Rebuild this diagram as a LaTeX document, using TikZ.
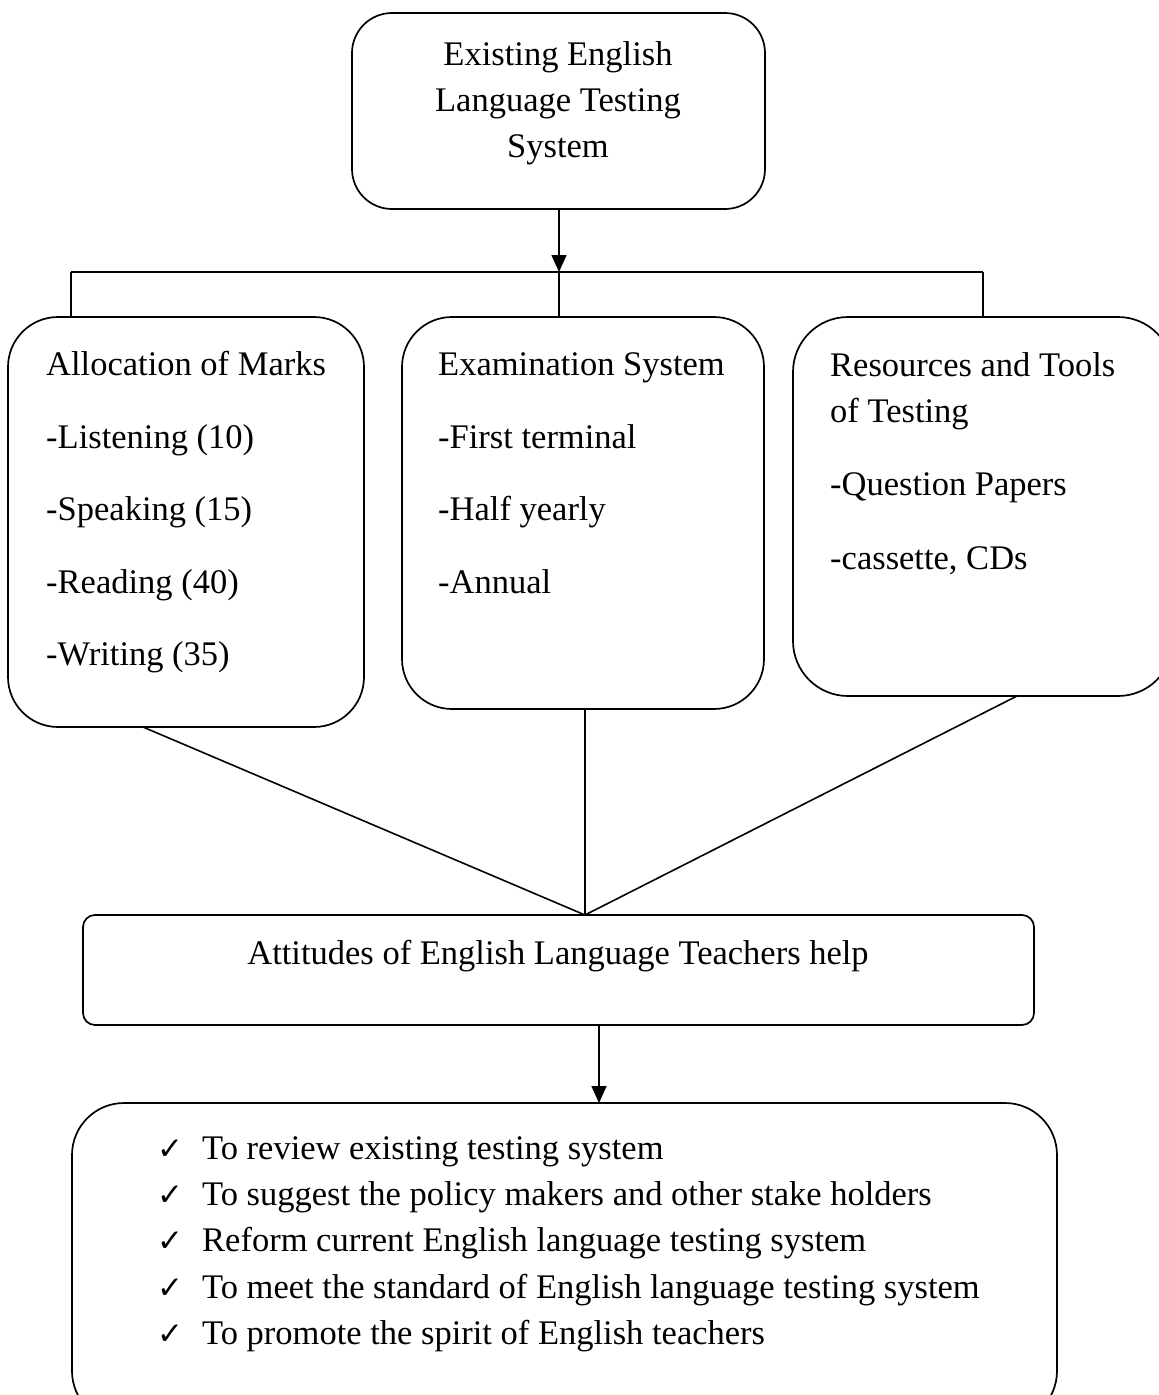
\documentclass[tikz,border=0pt]{standalone}
\usepackage{fontspec}
\setmainfont{Liberation Serif}
\newfontfamily\symfont{DejaVu Sans}
\usetikzlibrary{arrows.meta}
\begin{document}
\begin{tikzpicture}[x=1pt,y=-1pt,
  box/.style={draw, line width=1.7pt, inner sep=0pt, outer sep=0pt, anchor=north west},
  ln/.style={line width=1.6pt},
  arr/.style={ln, -{Triangle[length=17pt,width=15pt]}},
  txt/.style={anchor=base west, inner sep=0pt, font=\fontsize{34.5}{46}\selectfont},
  ctxt/.style={anchor=base, inner sep=0pt, font=\fontsize{34.5}{46}\selectfont},
  chk/.style={anchor=base west, inner sep=0pt, font=\symfont\fontsize{31}{31}\selectfont}]
\useasboundingbox (0,0) rectangle (1159,1395);
\clip (0,0) rectangle (1159,1395);

% boxes
\node[box, rounded corners=40pt, minimum width=413pt, minimum height=196pt] (top) at (352,13) {};
\node[box, rounded corners=50pt, minimum width=356pt, minimum height=410pt] (alloc) at (8,317) {};
\node[box, rounded corners=50pt, minimum width=362pt, minimum height=392pt] (exam) at (402,317) {};
\node[box, rounded corners=55pt, minimum width=380pt, minimum height=379pt] (res) at (793,317) {};
\node[box, rounded corners=12pt, minimum width=951pt, minimum height=110pt] (att) at (83,915) {};
\node[box, rounded corners=52pt, minimum width=985pt, minimum height=320pt] (goal) at (72,1103) {};

% texts
\node[ctxt] (t1) at (558,65) {Existing English};
\node[ctxt] (t2) at (558,111) {Language Testing};
\node[ctxt] (t3) at (558,157) {System};

\node[txt] (a1) at (46,375) {Allocation of Marks};
\node[txt] (a2) at (46,448) {-Listening (10)};
\node[txt] (a3) at (46,520) {-Speaking (15)};
\node[txt] (a4) at (46,593) {-Reading (40)};
\node[txt] (a5) at (46,665) {-Writing (35)};

\node[txt] (e1) at (438,375) {Examination System};
\node[txt] (e2) at (438,448) {-First terminal};
\node[txt] (e3) at (438,520) {-Half yearly};
\node[txt] (e4) at (438,593) {-Annual};

\node[txt] (r1) at (830,376) {Resources and Tools};
\node[txt] (r2) at (830,422) {of Testing};
\node[txt] (r3) at (830,495) {-Question Papers};
\node[txt] (r4) at (830,569) {-cassette, CDs};

\node[ctxt] (at) at (558,964) {Attitudes of English Language Teachers help};

\foreach \i/\y/\t in {1/1159/To review existing testing system,
                      2/1205/To suggest the policy makers and other stake holders,
                      3/1251/Reform current English language testing system,
                      4/1298/To meet the standard of English language testing system,
                      5/1344/To promote the spirit of English teachers}{
  \node[chk] (c\i) at (157,\y) {✓};
  \node[txt] (g\i) at (202,\y) {\t};
}

% connectors
\coordinate (busL) at (71,272);
\coordinate (busM) at (559,272);
\coordinate (busR) at (983,272);
\draw[arr] (busM |- top.south) -- (busM);
\draw[ln] (busL) -- (busR);
\draw[ln] (busL) -- (busL |- alloc.north);
\draw[ln] (busM) -- (busM |- exam.north);
\draw[ln] (busR) -- (busR |- res.north);

\coordinate (conv) at (585,915);
\coordinate (aOut) at (143,727);
\coordinate (eOut) at (585,709);
\coordinate (rOut) at (1017,696);
\draw[ln] (aOut) -- (conv);
\draw[ln] (eOut) -- (conv);
\draw[ln] (rOut) -- (conv);

\coordinate (attOut) at (599,1025);
\draw[arr] (attOut) -- (attOut |- goal.north);
\end{tikzpicture}
\end{document}
